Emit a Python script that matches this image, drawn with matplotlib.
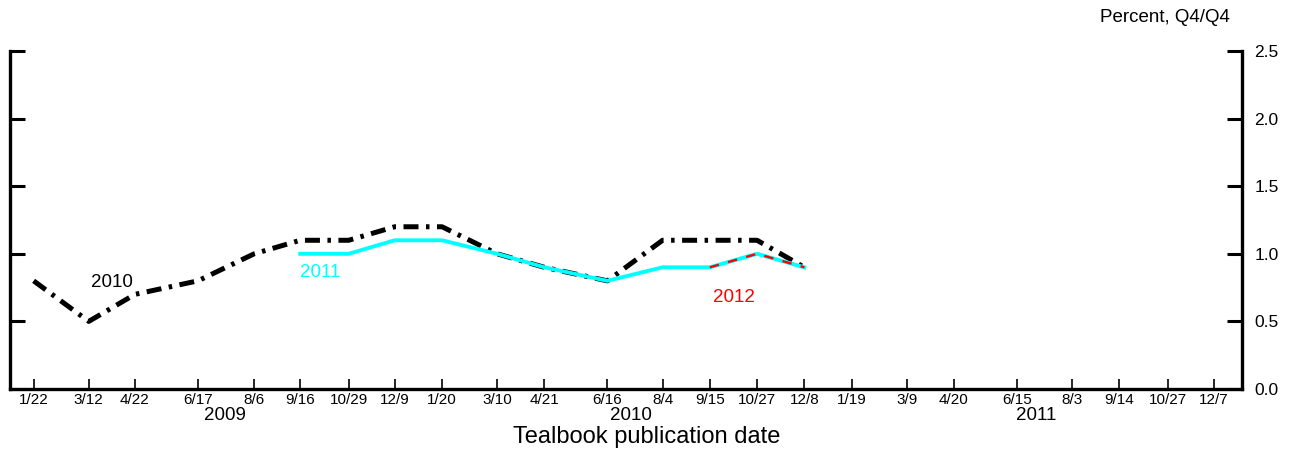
import matplotlib
matplotlib.use("Agg")
import matplotlib.pyplot as plt
import numpy as np
import pandas as pd

# Tealbook publication dates (x axis ticks)
pub_dates = ["2009-01-22", "2009-03-12", "2009-04-22", "2009-06-17", "2009-08-06",
             "2009-09-16", "2009-10-29", "2009-12-09", "2010-01-20", "2010-03-10",
             "2010-04-21", "2010-06-16", "2010-08-04", "2010-09-15", "2010-10-27",
             "2010-12-08", "2011-01-19", "2011-03-09", "2011-04-20", "2011-06-15",
             "2011-08-03", "2011-09-14", "2011-10-27", "2011-12-07"]
tick_labels = ["1/22", "3/12", "4/22", "6/17", "8/6", "9/16", "10/29", "12/9",
               "1/20", "3/10", "4/21", "6/16", "8/4", "9/15", "10/27", "12/8",
               "1/19", "3/9", "4/20", "6/15", "8/3", "9/14", "10/27", "12/7"]

# forecasts, percent Q4/Q4
f2010 = [0.8, 0.5, 0.7, 0.8, 1.0, 1.1, 1.1, 1.2, 1.2, 1.0, 0.9, 0.8, 1.1, 1.1, 1.1, 0.9]
f2011 = [1.0, 1.0, 1.1, 1.1, 1.0, 0.9, 0.8, 0.9, 0.9, 1.0, 0.9]
f2012 = [0.9, 1.0, 0.9]

year_labels = ["2009", "2010", "2011"]
year_label_dates = ["2009-07-11", "2010-07-07", "2011-07-02"]

dates = pd.to_datetime(pub_dates)

plt.rcParams['font.family'] = ['Liberation Sans', 'DejaVu Sans']

fig = plt.figure(figsize=(12.93, 4.49), dpi=100)
ax = fig.add_axes([10 / 1293, 60 / 449, 1232 / 1293, 338 / 449])

ax.plot(dates[:16], f2010, color='black', linewidth=3.6,
        dashes=(3.0, 1.5, 0.7, 1.5), dash_capstyle='butt', zorder=2)
ax.plot(dates[5:16], f2011, color='#00FFFF', linewidth=2.8, zorder=3)
ax.plot(dates[13:16], f2012, color='red', linewidth=1.7,
        dashes=(4, 4), zorder=4)

ax.text(pd.Timestamp("2009-04-02"), 0.79, "2010", color='black', fontsize=13.5,
        ha='center', va='center')
ax.text(pd.Timestamp("2009-10-04"), 0.86, "2011", color='#00FFFF', fontsize=13.5,
        ha='center', va='center')
ax.text(pd.Timestamp("2010-10-06"), 0.68, "2012", color='red', fontsize=13.5,
        ha='center', va='center')

ax.set_xlim(pd.Timestamp("2009-01-01"), pd.Timestamp("2012-01-01"))
ax.set_ylim(0, 2.5)

ax.set_xticks(dates)
ax.set_xticklabels(tick_labels, fontsize=11)
ax.tick_params(axis='x', direction='in', length=7, width=1.2, pad=3)

ax.yaxis.tick_right()
ax.set_yticks(np.arange(0, 2.51, 0.5))
ax.set_yticklabels([f"{v:.1f}" for v in np.arange(0, 2.51, 0.5)], fontsize=12.5)
ax.set_yticks([2.5], minor=True)
ax.tick_params(axis='y', which='major', direction='in', length=11, width=2.2,
               pad=9, left=True, right=True)
ax.tick_params(axis='y', which='minor', direction='in', length=17, width=2.2,
               left=True, right=True)

for side in ['left', 'right', 'bottom']:
    ax.spines[side].set_linewidth(2.4)
ax.spines['top'].set_visible(False)

for lab, d in zip(year_labels, year_label_dates):
    ax.text(pd.Timestamp(d), -0.077, lab, fontsize=13.5, ha='center', va='center',
            transform=ax.get_xaxis_transform(), clip_on=False)
ax.text(0.517, -0.142, "Tealbook publication date", fontsize=17, ha='center',
        va='center', transform=ax.transAxes)
fig.text(1165 / 1293, 1 - 17 / 449, "Percent, Q4/Q4", fontsize=13.5,
         ha='center', va='center')

fig.savefig("out.png", dpi=100)
